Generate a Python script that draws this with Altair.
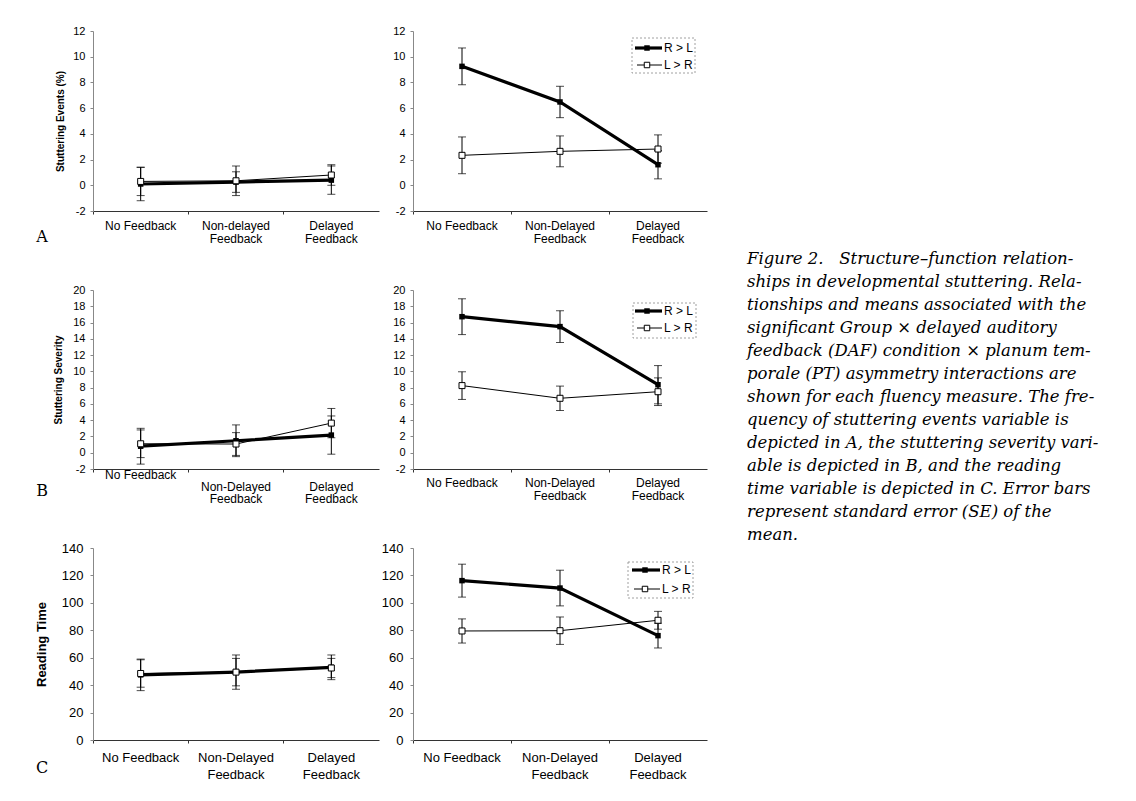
import altair as alt
import pandas as pd

# ---------------- data ----------------
conditions_a_left = ["No Feedback", "Non-delayed Feedback", "Delayed Feedback"]
conditions = ["No Feedback", "Non-Delayed Feedback", "Delayed Feedback"]
group_names = ["R > L", "L > R"]

# A: stuttering events (%)
events_left_rl = [0.1, 0.25, 0.4]
events_left_rl_se = [1.3, 0.8, 1.1]
events_left_lr = [0.3, 0.35, 0.8]
events_left_lr_se = [1.1, 1.15, 0.8]
events_right_rl = [9.25, 6.48, 1.6]
events_right_rl_se = [1.43, 1.22, 1.1]
events_right_lr = [2.33, 2.64, 2.82]
events_right_lr_se = [1.43, 1.2, 1.1]

# B: stuttering severity
severity_left_rl = [0.8, 1.47, 2.17]
severity_left_rl_se = [2.2, 1.95, 2.35]
severity_left_lr = [1.1, 1.07, 3.64]
severity_left_lr_se = [1.7, 1.4, 1.8]
severity_right_rl = [16.72, 15.5, 8.36]
severity_right_rl_se = [2.2, 1.95, 2.35]
severity_right_lr = [8.25, 6.69, 7.5]
severity_right_lr_se = [1.7, 1.5, 1.7]

# C: reading time
reading_left_rl = [47.5, 49.5, 53.0]
reading_left_rl_se = [11.5, 12.5, 9.0]
reading_left_lr = [48.5, 49.5, 52.5]
reading_left_lr_se = [10.0, 10.0, 7.0]
reading_right_rl = [116.2, 110.8, 76.1]
reading_right_rl_se = [12.0, 13.0, 9.0]
reading_right_lr = [79.5, 79.7, 87.3]
reading_right_lr_se = [8.8, 10.0, 6.5]

ticks_events = [-2, 0, 2, 4, 6, 8, 10, 12]
ticks_severity = [-2, 0, 2, 4, 6, 8, 10, 12, 14, 16, 18, 20]
ticks_reading = [0, 20, 40, 60, 80, 100, 120, 140]

y_titles = ["Stuttering Events (%)", "Stuttering Severity", "Reading Time"]
panel_letters = ["A", "B", "C"]

caption_lines = [
    "Figure 2.\u00a0\u00a0 Structure\u2013function relation-",
    "ships in developmental stuttering. Rela-",
    "tionships and means associated with the",
    "significant Group \u00d7 delayed auditory",
    "feedback (DAF) condition \u00d7 planum tem-",
    "porale (PT) asymmetry interactions are",
    "shown for each fluency measure. The fre-",
    "quency of stuttering events variable is",
    "depicted in A, the stuttering severity vari-",
    "able is depicted in B, and the reading",
    "time variable is depicted in C. Error bars",
    "represent standard error (SE) of the",
    "mean.",
]

LEFT_W, RIGHT_W = 286, 294
SANS = "Liberation Sans"
SERIF = "DejaVu Serif"

dummy = pd.DataFrame({"k": [0]})


def make_df(cats, rl, rl_se, lr, lr_se):
    rows = []
    for g, means, ses in ((group_names[0], rl, rl_se), (group_names[1], lr, lr_se)):
        for c, m, s in zip(cats, means, ses):
            rows.append({"cond": c, "group": g, "mean": m, "lo": m - s, "hi": m + s})
    return pd.DataFrame(rows)


def panel(cats, rl, rl_se, lr, lr_se, ydom, yvals, w, h, ytitle, yfs, xfs,
          xlh, xpad, ytitle_x=None, ytitle_fs=10, shift_labels=False, extras=()):
    df = make_df(cats, rl, rl_se, lr, lr_se)
    if shift_labels:
        lexpr = ("datum.value == 'No Feedback' ? 'No Feedback' : "
                 "['', replace(datum.value, ' Feedback', ''), 'Feedback']")
    else:
        lexpr = ("datum.value == 'No Feedback' ? 'No Feedback' : "
                 "[replace(datum.value, ' Feedback', ''), 'Feedback']")
    xaxis = alt.Axis(title=None, bandPosition=0, labelAngle=0,
                     labelExpr=lexpr, labelFontSize=xfs, labelLineHeight=xlh,
                     labelPadding=xpad, tickSize=3, tickColor="#333",
                     domainColor="#333", labelColor="black", labelFont=SANS)
    xenc = alt.X("cond:N", scale=alt.Scale(type="band", domain=cats,
                                           paddingInner=0, paddingOuter=0),
                 axis=xaxis)
    ylab = "'' + datum.value"
    ypad = 5 if yfs < 12 else 7
    if ytitle:
        yaxis = alt.Axis(values=yvals, title=ytitle, titleX=ytitle_x, titleY=h / 2,
                         titleAngle=270, titleAlign="center", titleBaseline="middle",
                         titleFontSize=ytitle_fs, titleFontWeight="bold", titleFont=SANS,
                         titleColor="black", labelFontSize=yfs, labelPadding=ypad,
                         labelExpr=ylab, tickSize=3, tickColor="#888", domainColor="#888",
                         labelColor="black", labelFont=SANS)
    else:
        yaxis = alt.Axis(values=yvals, title=None, labelFontSize=yfs, labelExpr=ylab,
                         labelPadding=ypad, tickSize=3, tickColor="#888",
                         domainColor="#888", labelColor="black", labelFont=SANS)
    yscale = alt.Scale(domain=ydom, nice=False, zero=False)

    def yenc(field):
        return alt.Y(field, scale=yscale, axis=yaxis, title=ytitle if ytitle else None)

    base = alt.Chart(df)
    bars = base.mark_rule(color="black", strokeWidth=1).encode(
        x=xenc, y=yenc("lo:Q"), y2="hi:Q")
    caps = base.transform_fold(["lo", "hi"], as_=["end", "val"]).mark_tick(
        color="black", size=8, thickness=1).encode(x=xenc, y=yenc("val:Q"))
    line_lr = base.transform_filter(alt.datum.group == group_names[1]).mark_line(
        color="black", strokeWidth=1).encode(x=xenc, y=yenc("mean:Q"))
    line_rl = base.transform_filter(alt.datum.group == group_names[0]).mark_line(
        color="black", strokeWidth=3.2).encode(x=xenc, y=yenc("mean:Q"))
    pts_rl = base.transform_filter(alt.datum.group == group_names[0]).mark_square(
        color="black", size=30, opacity=1).encode(x=xenc, y=yenc("mean:Q"))
    pts_lr = base.transform_filter(alt.datum.group == group_names[1]).mark_square(
        fill="white", stroke="black", strokeWidth=1, filled=True, size=36,
        opacity=1).encode(x=xenc, y=yenc("mean:Q"))
    layers = [bars, caps, line_lr, line_rl, pts_rl, pts_lr] + list(extras)
    return alt.layer(*layers).properties(width=w, height=h)


def legend(bx1, bx2, by1, by2, ey1, ey2, lx1, lx2, sx, tx):
    d = alt.Chart(dummy)
    box = d.mark_rect(fill="white", fillOpacity=0, stroke="#888", strokeWidth=0.8,
                      strokeDash=[2, 2]).encode(
        x=alt.value(bx1), x2=alt.value(bx2), y=alt.value(by1), y2=alt.value(by2))
    l1 = d.mark_rule(color="black", strokeWidth=3.2).encode(
        x=alt.value(lx1), x2=alt.value(lx2), y=alt.value(ey1))
    s1 = d.mark_square(color="black", size=30, opacity=1).encode(
        x=alt.value(sx), y=alt.value(ey1))
    t1 = d.mark_text(text=group_names[0], align="left", baseline="middle",
                     font=SANS, fontSize=12, color="black").encode(
        x=alt.value(tx), y=alt.value(ey1))
    l2 = d.mark_rule(color="black", strokeWidth=1).encode(
        x=alt.value(lx1 + 2), x2=alt.value(lx2), y=alt.value(ey2))
    s2 = d.mark_square(fill="white", stroke="black", strokeWidth=1, filled=True,
                       size=30, opacity=1).encode(x=alt.value(sx), y=alt.value(ey2))
    t2 = d.mark_text(text=group_names[1], align="left", baseline="middle",
                     font=SANS, fontSize=12, color="black").encode(
        x=alt.value(tx), y=alt.value(ey2))
    return [box, l1, s1, t1, l2, s2, t2]


def letter(ch, x, y):
    return alt.Chart(dummy).mark_text(text=ch, font=SERIF, fontSize=16, align="center",
                                      baseline="middle", color="black").encode(
        x=alt.value(x), y=alt.value(y))


anchor = alt.Chart(dummy).mark_rule(opacity=0, strokeWidth=0).encode(
    x=alt.value(-85), x2=alt.value(-85), y=alt.value(-23), y2=alt.value(-23))

caption = alt.Chart(dummy).mark_text(
    text=caption_lines, lineHeight=23, align="left", baseline="top", font=SERIF,
    fontStyle="italic", fontSize=16.5, color="black").encode(
    x=alt.value(334), y=alt.value(220))

pA_left = panel(conditions_a_left, events_left_rl, events_left_rl_se, events_left_lr,
                events_left_lr_se, [-2, 12], ticks_events, LEFT_W, 180, y_titles[0],
                11, 12, 13.5, 6, ytitle_x=-33, ytitle_fs=10,
                extras=[anchor, letter(panel_letters[0], -51, 206)])
pA_right = panel(conditions, events_right_rl, events_right_rl_se, events_right_lr,
                 events_right_lr_se, [-2, 12], ticks_events, RIGHT_W, 180, None,
                 11, 12, 13.5, 6,
                 extras=legend(219, 282, 7, 42, 17, 34, 222, 249, 234, 251) + [caption])
pB_left = panel(conditions, severity_left_rl, severity_left_rl_se, severity_left_lr,
                severity_left_lr_se, [-2, 20], ticks_severity, LEFT_W, 179, y_titles[1],
                11, 12, 12, -3, ytitle_x=-35, ytitle_fs=10, shift_labels=True,
                extras=[letter(panel_letters[1], -51, 201)])
pB_right = panel(conditions, severity_right_rl, severity_right_rl_se, severity_right_lr,
                 severity_right_lr_se, [-2, 20], ticks_severity, RIGHT_W, 179, None,
                 11, 12, 13.5, 5,
                 extras=legend(220, 283, 13, 48, 21, 38, 222, 249, 234, 251))
pC_left = panel(conditions, reading_left_rl, reading_left_rl_se, reading_left_lr,
                reading_left_lr_se, [0, 140], ticks_reading, LEFT_W, 192, y_titles[2],
                13, 13, 17, 8, ytitle_x=-52, ytitle_fs=13,
                extras=[letter(panel_letters[2], -51, 220)])
pC_right = panel(conditions, reading_right_rl, reading_right_rl_se, reading_right_lr,
                 reading_right_lr_se, [0, 140], ticks_reading, RIGHT_W, 192, None,
                 13, 13, 17, 8,
                 extras=legend(215, 280, 14, 50, 22, 41, 219, 247, 232, 249))

chart = alt.concat(pA_left, pA_right, pB_left, pB_right, pC_left, pC_right,
                   columns=2, spacing={"row": 79, "column": 34},
                   bounds="flush", align="each").properties(padding=0)
chart = chart.configure_view(strokeWidth=0).configure_axis(grid=False)

chart.save("out.html", embed_options={"renderer": "svg", "actions": False})
